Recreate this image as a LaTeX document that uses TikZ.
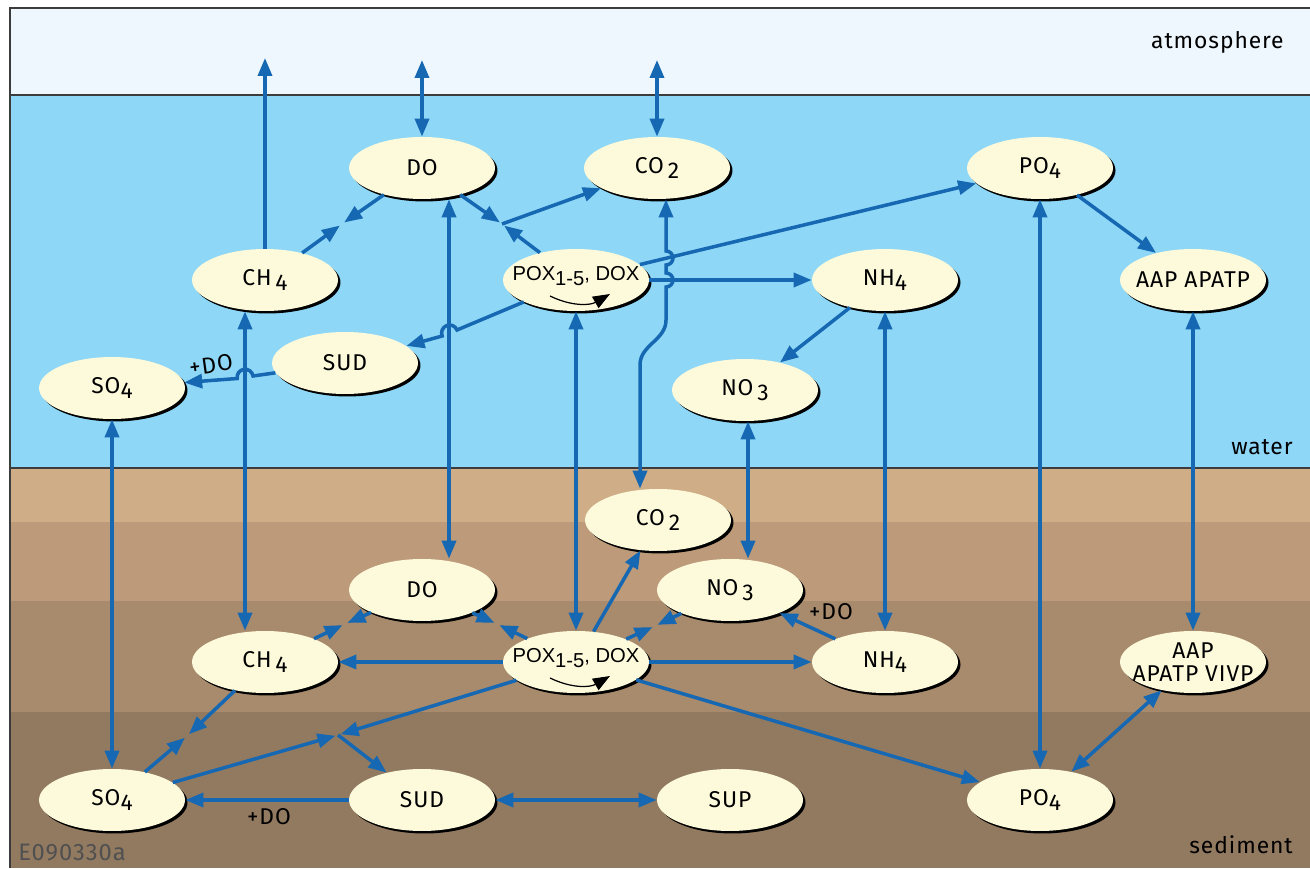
\documentclass[tikz,border=0pt]{standalone}
\usepackage{fontspec}
\setmainfont{Fira Sans}[LetterSpace=4]
\newfontfamily\poxfont{Liberation Sans}
\usetikzlibrary{arrows.meta,shapes.geometric,shadows,positioning}
\definecolor{flowblue}{RGB}{22,104,178}
\definecolor{cream}{RGB}{253,250,220}
\definecolor{airc}{RGB}{238,247,253}
\definecolor{waterc}{RGB}{142,215,247}
\definecolor{sedA}{RGB}{207,174,135}
\definecolor{sedB}{RGB}{188,154,122}
\definecolor{sedC}{RGB}{168,138,108}
\definecolor{sedD}{RGB}{146,122,96}
\definecolor{rim}{RGB}{60,60,60}
\newcommand{\low}[1]{\raisebox{-0.45ex}{#1}}
\newcommand{\slim}[1]{\makebox[1.7cm]{#1}}
\newcommand{\poxtext}{\raisebox{0.28cm}{\slim{\poxfont\fontsize{11.5}{14}\selectfont POX\raisebox{-0.55ex}{1-5}, DOX}}}

\begin{document}
\begin{tikzpicture}[x=0.02cm, y=0.02cm,
    pool/.style={ellipse, fill=cream, minimum width=2.92cm, minimum height=1.24cm,
      inner sep=0pt, align=center,
      drop shadow={shadow xshift=0.05cm, shadow yshift=-0.05cm, fill=black, opacity=1},
      font=\fontsize{13}{15}\selectfont},
    flowarr/.style={draw=flowblue, line width=2pt, -{Triangle[length=0.36cm, width=0.28cm]}},
    twoway/.style={flowarr, {Triangle[length=0.36cm, width=0.28cm]}-{Triangle[length=0.36cm, width=0.28cm]}},
    meet/.style={flowarr, shorten >=1.5pt},
    zone/.style={font=\fontsize{13}{15}\selectfont, inner sep=0pt},
    turn/.style={draw=black, line width=0.7pt, -{Triangle[length=0.34cm, width=0.26cm]}}]
    \useasboundingbox (0,0) rectangle (1310,868);
    % layers: air, water and four sediment bands
    \fill[airc] (10,773) rectangle (1310,860);
    \fill[waterc] (10,400) rectangle (1310,773);
    \foreach \lo/\hi/\c in {346/400/sedA, 267/346/sedB, 156/267/sedC, 0/156/sedD}
        \fill[\c] (10,\lo) rectangle (1310,\hi);
    \draw[rim, line width=1.2pt] (10,0) -- (10,860) -- (1310,860);
    \draw[rim, line width=1.2pt] (10,773) -- (1310,773);
    \draw[rim, line width=1.2pt] (10,400) -- (1310,400);

    % water column pools
    \node[pool] (doW)  at (422,700) {DO};
    \node[pool] (co2W) at (657,700) {CO\,\low{2}};
    \node[pool] (po4W) at (1040,700) {PO\low{4}};
    \node[pool] (ch4W) at (265,588) {CH\,\low{4}};
    \node[pool] (poxW) at (576,588) {\poxtext};
    \node[pool] (nh4W) at (885,588) {NH\low{4}};
    \node[pool] (aapW) at (1193,588) {\slim{AAP APATP}};
    \node[pool] (sudW) at (345,505) {SUD};
    \node[pool] (so4W) at (112,480) {SO\low{4}};
    \node[pool] (no3W) at (745,478) {NO\,\low{3}};

    % sediment pools
    \node[pool] (co2S) at (658,348) {CO\,\low{2}};
    \node[pool] (doS)  at (422,278) {DO};
    \node[pool] (no3S) at (730,278) {NO\,\low{3}};
    \node[pool] (ch4S) at (265,206) {CH\,\low{4}};
    \node[pool] (poxS) at (576,206) {\poxtext};
    \node[pool] (nh4S) at (885,206) {NH\low{4}};
    \node[pool, font=\fontsize{13}{13.5}\selectfont] (aapS) at (1193,206) {\slim{AAP}\\\slim{APATP VIVP}};
    \node[pool] (so4S) at (112,68) {SO\low{4}};
    \node[pool] (sudS) at (422,68) {SUD};
    \node[pool] (supS) at (730,68) {SUP};
    \node[pool] (po4S) at (1040,68) {PO\low{4}};

    % little turning arrow under POX
    \foreach \p in {poxW, poxS}
        \draw[turn] ([shift={(-26,-16)}]\p.center) to[bend right=28] ([shift={(34,-14)}]\p.center);

    % zone labels
    \node[zone, anchor=east] (lblair) at (1284,826) {atmosphere};
    \node[zone, anchor=east] (lblwater) at (1293,421) {water};
    \node[zone, anchor=east] (lblsed) at (1293,23) {sediment};
    \node[zone, anchor=west, text=rim!90, font=\fontsize{13.5}{16}\selectfont] (fignum) at (18,15) {E090330a};

    % points where two flows meet
    \coordinate (skyCH4) at (265,810);
    \coordinate (skyDO) at (422,808);
    \coordinate (skyCO2) at (657,808);
    \coordinate (jW1) at (342,644);
    \coordinate (jW2) at (502,644);
    \coordinate (jS1) at (345,244);
    \coordinate (jS2) at (497,244);
    \coordinate (jS3) at (655,242);
    \coordinate (jS4) at (187,132);
    \coordinate (jS5) at (338,133);

    % exchange with the atmosphere
    \draw[flowarr] (ch4W) -- (skyCH4);
    \draw[twoway] (skyDO) -- (doW);
    \draw[twoway] (skyCO2) -- (co2W);

    % water column flows
    \draw[meet] (doW) -- (jW1);
    \draw[meet] (ch4W) -- (jW1);
    \draw[meet] (doW) -- (jW2);
    \draw[meet] (poxW) -- (jW2);
    \draw[flowarr] (jW2) -- (co2W);
    \draw[flowarr] (poxW) -- (po4W);
    \draw[flowarr] (poxW) -- (nh4W);
    \draw[flowarr] (poxW) -- (457,538) arc[start angle=22, end angle=202, radius=8] -- (sudW);
    \draw[flowarr] (sudW) -- (253,492) arc[start angle=9, end angle=189, radius=8] -- (so4W);
    \node[zone, rotate=8] (plusdoW) at (211,503) {+DO};
    \draw[flowarr] (nh4W) -- (no3W);
    \draw[flowarr] (po4W) -- (aapW);

    % water <-> sediment
    \draw[twoway] (so4W) -- (so4S);
    \draw[twoway] ([shift={(-20,0)}]ch4W.south) -- ([shift={(-20,0)}]ch4S.north);
    \draw[twoway] ([shift={(27,0)}]doW.south) -- ([shift={(27,0)}]doS.north);
    \draw[twoway] (poxW) -- (poxS);
    \draw[twoway] ([shift={(9,0)}]co2W.south) -- (666,617)
        arc[start angle=90, end angle=-90, radius=7] -- (666,595)
        arc[start angle=90, end angle=-90, radius=7] -- (666,548)
        to[out=-90, in=90] (640,503) -- ([shift={(-18,0)}]co2S.north);
    \draw[twoway] ([shift={(3,0)}]no3W.south) -- ([shift={(18,0)}]no3S.north);
    \draw[twoway] (nh4W) -- (nh4S);
    \draw[twoway] (po4W) -- (po4S);
    \draw[twoway] (aapW) -- (aapS);

    % sediment flows
    \draw[meet] (doS) -- (jS1);
    \draw[meet] (ch4S) -- (jS1);
    \draw[meet] (doS) -- (jS2);
    \draw[meet] (poxS) -- (jS2);
    \draw[meet] (no3S) -- (jS3);
    \draw[meet] (poxS) -- (jS3);
    \draw[flowarr] (poxS) -- (co2S);
    \draw[flowarr] (poxS) -- (ch4S);
    \draw[flowarr] (poxS) -- (nh4S);
    \draw[flowarr] (nh4S) -- (no3S);
    \node[zone] (plusdoS) at (831,256) {+DO};
    \draw[flowarr] (poxS) -- (po4S);
    \draw[meet] (poxS) -- (jS5);
    \draw[meet] (so4S) -- (jS5);
    \draw[flowarr] (jS5) -- (sudS);
    \draw[meet] (ch4S) -- (jS4);
    \draw[meet] (so4S) -- (jS4);
    \draw[flowarr] (sudS) -- (so4S);
    \node[zone] (plusdoB) at (269,51) {+DO};
    \draw[twoway] (sudS) -- (supS);
    \draw[twoway] (po4S) -- (aapS);
\end{tikzpicture}
\end{document}
